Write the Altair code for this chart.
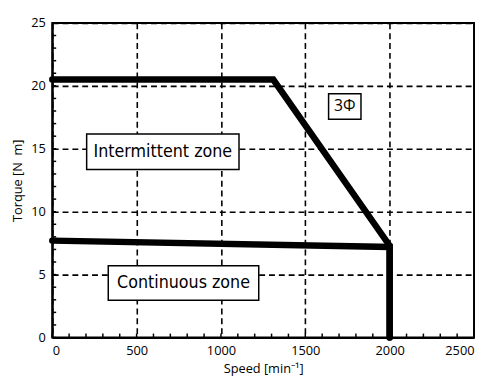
import altair as alt
import pandas as pd

# Curves (speed in min^-1, torque in N m)
inter_speed = [0, 1310, 2000, 2000]
inter_torque = [20.5, 20.5, 7.3, 0]
cont_speed = [0, 2000, 2000]
cont_torque = [7.7, 7.2, 0]

# Annotation boxes (data coords)
box_labels = ["Intermittent zone", "Continuous zone", "3Φ"]
box_x1 = [204, 332, 1638]
box_x2 = [1107, 1224, 1830]
box_y1 = [13.36, 2.97, 17.34]
box_y2 = [16.17, 5.70, 19.38]
box_kind = ["zone", "zone", "phase"]

x_minor = list(range(0, 2501, 100))
y_minor = list(range(0, 26, 1))

curves = pd.DataFrame({
    "speed": inter_speed + cont_speed,
    "torque": inter_torque + cont_torque,
    "series": ["Intermittent"] * len(inter_speed) + ["Continuous"] * len(cont_speed),
    "order": list(range(len(inter_speed))) + list(range(len(cont_speed))),
})
boxes = pd.DataFrame({
    "label": box_labels, "x1": box_x1, "x2": box_x2, "y1": box_y1, "y2": box_y2,
    "xc": [(a + b) / 2 for a, b in zip(box_x1, box_x2)],
    "yc": [(a + b) / 2 for a, b in zip(box_y1, box_y2)],
    "kind": box_kind,
})

xs = alt.Scale(domain=[0, 2500], nice=False)
ys = alt.Scale(domain=[0, 25], nice=False)

W, H = 429, 320

base_axes = alt.Chart(pd.DataFrame({"speed": [0], "torque": [0]})).mark_point(opacity=0).encode(
    x=alt.X("speed:Q", scale=xs, title="Speed [min⁻¹]",
            axis=alt.Axis(values=[0, 500, 1000, 1500, 2000, 2500], grid=True, format="d")),
    y=alt.Y("torque:Q", scale=ys, title="Torque [N\u00a0\u00a0m]",
            axis=alt.Axis(values=[0, 5, 10, 15, 20, 25], grid=True, format="d")),
)

xt = alt.Chart(pd.DataFrame({"v": x_minor})).mark_rule(color="black", strokeWidth=1.5).encode(
    x=alt.X("v:Q", scale=xs), y=alt.value(H), y2=alt.value(H - 4))
yt = alt.Chart(pd.DataFrame({"v": y_minor})).mark_rule(color="black", strokeWidth=1.5).encode(
    y=alt.Y("v:Q", scale=ys), x=alt.value(0), x2=alt.value(4))

lines = alt.Chart(curves).mark_line(color="black", strokeWidth=6.5, strokeCap="round", strokeJoin="miter").encode(
    x=alt.X("speed:Q", scale=xs), y=alt.Y("torque:Q", scale=ys),
    detail="series:N", order="order:Q")

rects = alt.Chart(boxes).mark_rect(fill="white", stroke="black", strokeWidth=1.5).encode(
    x=alt.X("x1:Q", scale=xs), x2="x2:Q", y=alt.Y("y1:Q", scale=ys), y2="y2:Q")

zone_text = alt.Chart(boxes).transform_filter(alt.datum.kind == "zone").mark_text(
    baseline="middle", align="center", color="black",
    font="DejaVu Sans Condensed", fontSize=18).encode(
    x=alt.X("xc:Q", scale=xs), y=alt.Y("yc:Q", scale=ys), text="label:N")

phase_text = alt.Chart(boxes).transform_filter(alt.datum.kind == "phase").mark_text(
    baseline="middle", align="center", color="black", font="Open Sans", fontSize=16).encode(
    x=alt.X("xc:Q", scale=xs), y=alt.Y("yc:Q", scale=ys), text="label:N")

chart = alt.layer(base_axes, xt, yt, lines, rects, zone_text, phase_text).properties(
    width=W, height=H,
    autosize=alt.AutoSizeParams(type="none"),
    padding={"left": 45, "top": 12, "right": 1, "bottom": 40},
).configure_view(stroke="black", strokeWidth=2).configure_axis(
    domainColor="black", domainWidth=2, tickSize=0,
    gridColor="black", gridDash=[6, 4], gridWidth=1.6, gridOpacity=1,
    labelFont="Open Sans", labelFontSize=13, labelColor="black", labelPadding=7,
    titleFont="Open Sans", titleFontSize=13, titleColor="black", titleFontWeight="normal",
).configure_axisX(titlePadding=6).configure_axisY(titlePadding=6)

chart.save("out.html", embed_options={"renderer": "svg", "actions": False})
